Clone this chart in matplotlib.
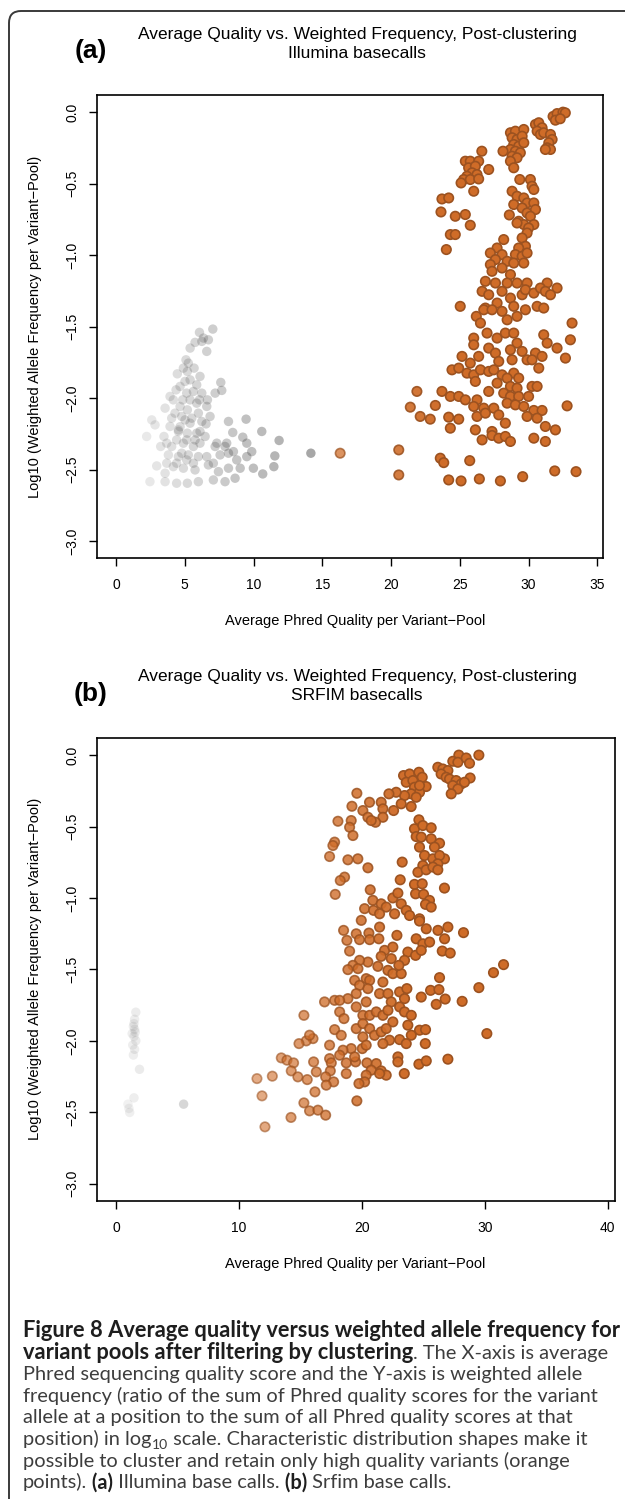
import matplotlib
matplotlib.use("Agg")
import matplotlib.pyplot as plt
import numpy as np
from matplotlib.colors import to_rgba
from matplotlib.path import Path
from matplotlib.patches import PathPatch

# ---------------- data ----------------
# Panel (a) Illumina: retained (orange) variant pools
qa_x = [31.78, 32.07, 32.5, 32.67, 31.95, 32.3,
        30.5, 30.74, 30.98, 30.62, 30.86, 31.1,
        31.59, 31.71, 31.47, 31.35, 31.59, 31.22,
        28.68, 29.04, 29.65, 28.8, 29.16, 29.53, 28.92, 29.28, 29.65, 28.68, 29.04, 29.4, 28.8, 29.16, 28.68, 28.92, 28.14,
        26.6, 25.4, 25.76, 26.37, 25.64, 26.13, 27.1, 25.89, 26.25, 25.52, 25.28, 25.76, 25.09, 26.01, 26.37,
        23.7, 24.19, 23.63, 24.67, 25.4, 25.76, 24.31, 24.67, 24.02,
        29.36, 30.13, 30.25, 30.38, 28.8, 29.16, 29.65, 29.89, 28.92, 30.38, 29.53, 29.89, 30.5, 28.6, 30.13, 29.28,
        29.65, 30.38, 29.16, 30.0, 29.89, 29.53, 28.19,
        29.77, 29.28, 27.71, 27.22, 28.07, 29.04, 29.53, 29.89, 27.59, 28.44, 27.22, 28.92, 29.65, 27.34, 28.07, 28.68,
        26.86, 27.59, 28.44, 29.16, 29.89, 31.35, 32.07, 26.62, 27.1, 28.07, 28.68, 29.53, 29.77, 30.38, 30.86, 31.22,
        31.59, 27.71, 28.92, 25.03, 26.86, 30.62,
        26.74, 27.34, 28.07, 28.44, 29.16, 29.77, 31.1,
        26.2, 26.5, 26.98, 26.01, 26.01, 27.71, 28.31, 28.92, 29.16, 31.1, 31.35, 33.16, 33.04, 32.07, 32.68,
        27.1, 27.59, 28.68, 29.53, 30.5, 30.98, 29.89, 30.25, 28.8, 27.83, 26.37, 25.16, 25.76, 30.74,
        24.43, 24.92, 25.52, 26.01, 26.5, 27.1, 27.47, 28.07, 28.92, 29.28, 28.44, 26.13, 27.71, 28.68, 29.16, 30.25, 30.62,
        21.88, 23.7, 24.31, 24.92, 25.4, 26.25, 27.1, 28.19, 28.68, 29.28, 30.0, 28.44, 29.04, 29.65, 21.4, 23.22, 26.01,
        26.74, 27.47, 30.38, 30.98, 32.8,
        22.12, 22.85, 24.19, 24.92, 26.25, 26.86, 27.83, 28.31, 29.89, 30.62, 24.31, 26.13, 27.34, 27.34, 27.83, 28.31,
        28.68, 26.62, 30.38, 31.22, 31.22, 31.95,
        20.56, 23.58, 23.83, 25.72, 20.56, 24.19, 25.09, 26.42, 27.95, 29.57, 31.9, 33.45,
        16.3]
qa_y = [-0.03, -0.01, -0.0, -0.005, -0.056, -0.046,
        -0.086, -0.074, -0.109, -0.133, -0.156, -0.144,
        -0.156, -0.191, -0.214, -0.249, -0.261, -0.261,
        -0.144, -0.133, -0.121, -0.179, -0.191, -0.168, -0.226, -0.238, -0.214, -0.261, -0.273, -0.284, -0.308, -0.319, -0.343, -0.389, -0.273,
        -0.273, -0.343, -0.343, -0.343, -0.389, -0.378, -0.401, -0.424, -0.436, -0.448, -0.471, -0.471, -0.495, -0.553, -0.467,
        -0.607, -0.6, -0.698, -0.728, -0.716, -0.791, -0.856, -0.856, -0.961,
        -0.471, -0.471, -0.518, -0.541, -0.553, -0.588, -0.6, -0.635, -0.646, -0.635, -0.67, -0.705, -0.681, -0.719, -0.728, -0.763,
        -0.786, -0.786, -0.775, -0.81, -0.845, -0.88, -0.891,
        -0.938, -0.95, -0.95, -0.985, -0.996, -0.996, -1.008, -0.985, -1.031, -1.043, -1.066, -1.055, -1.055, -1.113, -1.09, -1.136,
        -1.183, -1.195, -1.195, -1.195, -1.195, -1.195, -1.23, -1.253, -1.277, -1.253, -1.3, -1.277, -1.242, -1.265, -1.23, -1.253,
        -1.277, -1.335, -1.358, -1.358, -1.37, -1.358,
        -1.382, -1.382, -1.393, -1.452, -1.428, -1.382, -1.37,
        -1.428, -1.475, -1.545, -1.58, -1.627, -1.58, -1.545, -1.545, -1.615, -1.557, -1.615, -1.475, -1.592, -1.65, -1.72,
        -1.65, -1.685, -1.662, -1.673, -1.685, -1.708, -1.732, -1.732, -1.732, -1.743, -1.708, -1.708, -1.755, -1.79,
        -1.802, -1.79, -1.825, -1.837, -1.802, -1.813, -1.802, -1.837, -1.825, -1.86, -1.86, -1.883, -1.895, -1.918, -1.93, -1.918, -1.918,
        -1.953, -1.953, -1.988, -1.988, -2.012, -2.012, -1.953, -1.965, -1.988, -1.988, -1.988, -2.035, -2.047, -2.058, -2.063, -2.051, -2.058,
        -2.07, -2.07, -2.086, -2.086, -2.054,
        -2.128, -2.147, -2.133, -2.147, -2.128, -2.105, -2.117, -2.175, -2.128, -2.14, -2.21, -2.222, -2.233, -2.261, -2.28, -2.268,
        -2.303, -2.292, -2.28, -2.303, -2.198, -2.222,
        -2.362, -2.42, -2.451, -2.437, -2.537, -2.572, -2.579, -2.565, -2.579, -2.549, -2.509, -2.514,
        -2.385]

# Panel (a) Illumina: filtered-out (grey) variant pools
ga_x = [7.04, 6.07, 6.36, 6.72, 5.75, 6.24, 5.39, 6.6, 5.09, 5.26, 4.9, 5.68, 4.46, 5.19, 5.39, 5.02, 5.87, 7.62,
        4.37, 7.21, 7.69, 3.93, 5.63, 6.24, 4.85, 5.39, 6.07, 6.65, 3.57, 4.66, 5.19, 5.99, 6.6, 2.6, 2.84, 4.05,
        4.78, 5.51, 6.24, 6.84, 6.55, 8.18, 9.46, 2.23, 3.49, 4.54, 5.19, 5.87, 6.48, 8.49, 9.22, 10.6, 11.86,
        3.25, 4.05, 4.9, 5.63, 7.21, 8.05, 9.51, 3.81, 4.54, 5.26, 5.99, 6.72, 7.57, 8.18, 8.78, 9.87, 11.55, 14.17,
        2.96, 4.17, 4.9, 5.75, 7.45, 8.18, 9.03, 9.99, 10.67, 11.48, 3.57, 2.47, 3.57, 4.41, 5.19, 5.99, 7.08, 7.93,
        8.66, 7.33, 7.93, 7.08, 8.54, 9.51,
        4.66, 5.39, 4.41, 5.14, 3.93, 4.29, 5.75, 3.69, 6.11, 4.78, 5.63, 4.41, 3.69, 5.14, 6.6, 4.54, 6.11, 5.02,
        4.17, 5.87, 5.14, 4.66, 6.11]
ga_y = [-1.517, -1.54, -1.58, -1.592, -1.61, -1.603, -1.65, -1.673, -1.732, -1.755, -1.79, -1.79, -1.83, -1.813,
        -1.872, -1.883, -1.907, -1.89, -1.942, -1.965, -1.946, -1.988, -1.953, -1.965, -2.012, -2.012, -2.012, -2.012,
        -2.07, -2.058, -2.082, -2.105, -2.058, -2.152, -2.187, -2.14, -2.128, -2.14, -2.163, -2.128, -2.18, -2.163,
        -2.147, -2.268, -2.268, -2.233, -2.245, -2.245, -2.268, -2.24, -2.273, -2.233, -2.296, -2.338, -2.338, -2.315,
        -2.338, -2.338, -2.315, -2.315, -2.397, -2.409, -2.397, -2.409, -2.467, -2.397, -2.385, -2.432, -2.374, -2.404,
        -2.385, -2.474, -2.479, -2.49, -2.502, -2.514, -2.49, -2.49, -2.49, -2.53, -2.479, -2.525, -2.584, -2.584,
        -2.595, -2.595, -2.584, -2.572, -2.584, -2.56, -2.315, -2.338, -2.455, -2.374, -2.409,
        -2.2, -2.175, -2.292, -2.292, -2.198, -2.105, -2.292, -2.315, -2.315, -2.385, -2.455, -2.455, -2.455, -2.432,
        -2.409, -2.222, -2.233, -2.152, -2.012, -2.035, -1.965, -1.918, -1.848]

# Panel (b) SRFIM: retained (orange) variant pools
qb_x = [27.89, 27.4, 27.81, 28.49, 28.76, 29.52,
        26.18, 26.59, 27.0, 26.45, 26.86, 27.13,
        27.67, 28.08, 28.81, 28.35, 27.4, 27.81, 27.27,
        23.39, 23.88, 24.64, 24.91, 23.61, 24.15, 25.23, 24.28, 24.69, 24.01, 24.42, 23.47, 24.01, 23.2, 24.69, 22.79, 22.2, 22.58,
        20.62, 21.57, 20.08, 21.71, 20.49, 21.71, 21.11, 20.76,
        19.59, 19.19, 18.05, 19.13, 19.0, 19.27, 17.78, 17.64, 17.37, 18.86, 19.67, 20.49, 23.28, 18.59, 18.24, 17.83, 23.12,
        24.64, 24.28, 24.96, 25.64, 24.42, 24.83, 25.64, 26.32, 24.69, 25.1, 25.91, 25.78, 26.72, 26.32, 26.18, 24.96,
        24.56, 25.23, 25.78, 26.18, 24.28, 24.91, 26.72,
        20.68, 20.89, 20.22, 20.95, 21.57, 21.98, 21.44, 22.52, 22.93, 23.2, 23.61, 22.66, 24.37, 25.02, 25.5, 25.18,
        25.64, 24.69, 23.88,
        19.95, 18.51, 19.54, 20.57, 21.44, 19.81, 20.63, 21.38, 18.78, 19.0, 22.85, 24.69, 25.24, 26.19, 27.0, 28.27,
        24.42, 24.96, 25.51, 26.73, 26.54, 27.19, 21.85, 22.52, 23.74, 24.37, 24.83, 23.47, 22.39, 21.57, 20.49, 19.81,
        19.27, 18.86, 19.68, 21.3, 22.12, 22.52, 23.2, 23.01, 26.32, 25.59, 26.27, 26.78, 28.16, 29.52, 30.71, 30.17,
        26.05,
        19.41, 20.35, 20.63, 19.81, 21.71, 20.49, 19.54, 18.86, 17.78, 16.96, 18.19, 21.44, 22.12, 23.07, 23.66, 24.83,
        23.47, 22.39, 20.35, 19.54, 18.19, 18.54, 20.08, 20.63, 21.17, 21.71, 22.12, 23.07, 23.47, 24.02, 22.52, 23.74,
        24.69, 25.18, 24.02, 25.16, 15.28,
        17.78, 18.32, 19.54, 20.08, 20.63, 21.03, 21.57, 21.98, 22.25, 21.71, 20.08, 20.03, 20.35, 19.13, 18.46, 18.19,
        17.37, 23.07, 23.61, 22.93, 22.93, 24.64, 25.24, 27.0,
        16.02, 15.47, 15.74, 14.88, 13.44, 13.9, 14.44, 14.25, 14.79, 15.55, 16.07, 17.37, 17.51, 18.73, 19.49, 19.41,
        20.41, 21.17, 20.76, 21.57, 21.98, 21.44, 20.35, 20.22, 19.76, 18.73, 17.43, 17.05, 17.7, 17.1, 16.29, 23.45,
        12.71, 11.46, 11.87, 16.18, 15.28, 15.74, 16.42, 17.05, 14.23, 12.11, 19.59,
        31.53]
qb_y = [-0.0, -0.043, -0.05, -0.02, -0.057, -0.0,
        -0.085, -0.097, -0.108, -0.132, -0.155, -0.167,
        -0.178, -0.202, -0.16, -0.19, -0.213, -0.237, -0.271,
        -0.143, -0.132, -0.12, -0.155, -0.19, -0.178, -0.22, -0.225, -0.26, -0.271, -0.295, -0.283, -0.36, -0.341, -0.213, -0.26, -0.271, -0.388,
        -0.33, -0.33, -0.388, -0.376, -0.435, -0.435, -0.47, -0.458,
        -0.267, -0.358, -0.463, -0.458, -0.505, -0.563, -0.609, -0.633, -0.71, -0.733, -0.726, -0.789, -0.749, -0.854, -0.878, -0.975, -0.873,
        -0.453, -0.516, -0.493, -0.509, -0.57, -0.574, -0.586, -0.617, -0.644, -0.703, -0.644, -0.726, -0.726, -0.703, -0.761, -0.773,
        -0.82, -0.803, -0.784, -0.803, -0.905, -0.901, -0.931,
        -0.943, -1.017, -1.075, -1.087, -1.041, -1.064, -1.111, -1.0, -0.966, -1.041, -1.087, -1.111, -0.971, -0.975, -1.017, -1.045,
        -1.064, -1.146, -1.123,
        -1.157, -1.227, -1.251, -1.246, -1.204, -1.292, -1.292, -1.286, -1.297, -1.372, -1.262, -1.162, -1.216, -1.227, -1.204, -1.243,
        -1.286, -1.321, -1.309, -1.286, -1.372, -1.386, -1.367, -1.344, -1.379, -1.402, -1.367, -1.437, -1.425, -1.409, -1.449, -1.437,
        -1.472, -1.502, -1.495, -1.479, -1.507, -1.53, -1.53, -1.472, -1.558, -1.647, -1.642, -1.708, -1.724, -1.628, -1.523, -1.95,
        -1.745,
        -1.577, -1.565, -1.577, -1.612, -1.589, -1.635, -1.67, -1.705, -1.717, -1.728, -1.717, -1.67, -1.67, -1.658, -1.635, -1.694,
        -1.705, -1.728, -1.728, -1.763, -1.798, -1.845, -1.822, -1.822, -1.798, -1.822, -1.787, -1.763, -1.798, -1.822, -1.868, -1.891,
        -1.926, -1.922, -1.961, -2.02, -1.822,
        -1.922, -1.962, -1.915, -1.88, -1.915, -1.962, -1.938, -1.915, -1.996, -2.02, -1.973, -2.055, -2.031, -2.055, -2.066, -2.101,
        -2.031, -1.992, -2.02, -2.113, -2.148, -2.164, -2.141, -2.129,
        -1.985, -2.001, -1.961, -2.02, -2.12, -2.136, -2.155, -2.211, -2.253, -2.272, -2.148, -2.125, -2.155, -2.155, -2.148, -2.113,
        -2.155, -2.16, -2.206, -2.211, -2.241, -2.23, -2.241, -2.288, -2.3, -2.23, -2.211, -2.253, -2.288, -2.311, -2.218, -2.23,
        -2.248, -2.265, -2.386, -2.358, -2.435, -2.491, -2.486, -2.521, -2.537, -2.603, -2.421,
        -1.467]

# Panel (b) SRFIM: filtered-out (grey) variant pools
gb_x = [1.6, 1.5, 1.4, 1.5, 1.3, 1.45, 1.6, 1.35, 1.5, 1.4, 1.9, 1.45, 1.55, 1.45, 0.96, 1.04, 1.1, 5.49]
gb_y = [-1.8, -1.85, -1.9, -1.92, -1.95, -1.97, -2.0, -2.03, -2.06, -2.1, -2.2, -1.88, -1.94, -2.4, -2.444, -2.474, -2.502, -2.444]

xticks_a = [0, 5, 10, 15, 20, 25, 30, 35]
xticks_b = [0, 10, 20, 30, 40]
yticks = [0.0, -0.5, -1.0, -1.5, -2.0, -2.5, -3.0]

title_line1 = "Average Quality vs. Weighted Frequency, Post-clustering"
subtitle_a = "Illumina basecalls"
subtitle_b = "SRFIM basecalls"
xlabel = "Average Phred Quality per Variant\u2212Pool"
ylabel = "Log10 (Weighted Allele Frequency per Variant\u2212Pool)"

# ---------------- layout ----------------
W, H = 625, 1499
fig = plt.figure(figsize=(W / 100, H / 100), dpi=100)
fig.patch.set_facecolor("white")
AX_FONT = "Liberation Sans"
CAP_FONT = "Lato"


def fx(px):
    return px / W


def fy(py):
    return 1 - py / H


def fmt_tick(v, dec):
    s = f"{abs(v):.{dec}f}"
    return ("\u2212" + s) if v < 0 else s


def orange_style(x):
    a = np.clip(0.15 + np.asarray(x, float) / 28.0, 0, 1)
    face = np.array([to_rgba("#cf6c28", ai) for ai in a])
    edge = np.array([to_rgba("#9c5220", ai) for ai in a])
    return face, edge


def grey_style(x):
    a = np.clip(0.05 + np.asarray(x, float) / 32.0, 0.05, 0.6)
    return np.array([to_rgba("#4d4d4d", ai) for ai in a])


def make_panel(box, xlim, xticks, gx, gy, qx, qy, tag, subtitle):
    l, t, r, b = box
    ax = fig.add_axes([fx(l), fy(b), (r - l) / W, (b - t) / H])
    ax.set_xlim(*xlim)
    ax.set_ylim(-3.12, 0.12)
    ax.scatter(gx, gy, s=46, c=grey_style(gx), edgecolors="none", zorder=2)
    face, edge = orange_style(qx)
    ax.scatter(qx, qy, s=46, c=face, edgecolors=edge, linewidths=1.2, zorder=3)
    for sp in ax.spines.values():
        sp.set_linewidth(1.2)
        sp.set_color("black")
    ax.set_xticks(xticks)
    ax.set_xticklabels([str(v) for v in xticks], fontfamily=AX_FONT, fontsize=10)
    ax.set_yticks(yticks)
    ax.set_yticklabels([fmt_tick(v, 1) for v in yticks], fontfamily=AX_FONT, fontsize=10,
                       rotation=90, va="center")
    ax.tick_params(axis="x", direction="out", length=5.5, width=1, pad=9)
    ax.tick_params(axis="y", direction="out", length=5.5, width=1, pad=7)
    # titles & labels
    fig.text(fx(357), fy(t - 61), title_line1, ha="center", va="center",
             fontfamily=AX_FONT, fontsize=12.5)
    fig.text(fx(357), fy(t - 42), subtitle, ha="center", va="center",
             fontfamily=AX_FONT, fontsize=12.5)
    fig.text(fx(91), fy(t - 44), tag, ha="center", va="center",
             fontfamily=AX_FONT, fontweight="bold", fontsize=19)
    fig.text(fx(355), fy(b + 63), xlabel, ha="center", va="center",
             fontfamily=AX_FONT, fontsize=10.5)
    fig.text(fx(35), fy((t + b) / 2), ylabel, ha="center", va="center", rotation=90,
             fontfamily=AX_FONT, fontsize=10.5)
    return ax


make_panel((97, 95, 603, 558.3), (-1.38, 35.41), xticks_a, ga_x, ga_y, qa_x, qa_y, "(a)", subtitle_a)
make_panel((97, 738, 614.5, 1200.7), (-1.56, 40.56), xticks_b, gb_x, gb_y, qb_x, qb_y, "(b)", subtitle_b)

# frame with rounded top-left corner
verts = [(fx(625), fy(11)), (fx(21), fy(11)), (fx(9), fy(11)), (fx(9), fy(23)), (fx(9), fy(1499))]
codes = [Path.MOVETO, Path.LINETO, Path.CURVE3, Path.CURVE3, Path.LINETO]
fig.patches.append(PathPatch(Path(verts, codes), transform=fig.transFigure, fill=False,
                             edgecolor="#3a3a3a", linewidth=1.4))

# ---------------- caption ----------------
renderer = fig.canvas.get_renderer()
REG_C = "#3d3d3d"
BOLD_C = "#1e1e1e"


def fit_size(text, weight, target_px):
    probe = fig.text(0, 0, text, fontfamily=CAP_FONT, fontweight=weight, fontsize=10)
    w = probe.get_window_extent(renderer).width
    probe.remove()
    return 10 * target_px / w


CAP_SIZE = fit_size("Phred sequencing quality score and the Y-axis is weighted allele", "normal", 560.0)
HEAD_SIZE = fit_size("Figure 8 Average quality versus weighted allele frequency for", "bold", 598.0)

# runs: (text, weight, use heading size, size scale, baseline shift px)
caption = [
    [("Figure 8 Average quality versus weighted allele frequency for", "bold", True, 1, 0)],
    [("variant pools after filtering by clustering", "bold", True, 1, 0),
     (". The X-axis is average", "normal", False, 1, 0)],
    [("Phred sequencing quality score and the Y-axis is weighted allele", "normal", False, 1, 0)],
    [("frequency (ratio of the sum of Phred quality scores for the variant", "normal", False, 1, 0)],
    [("allele at a position to the sum of all Phred quality scores at that", "normal", False, 1, 0)],
    [("position) in log", "normal", False, 1, 0), ("10", "normal", False, 0.7, 4),
     (" scale. Characteristic distribution shapes make it", "normal", False, 1, 0)],
    [("possible to cluster and retain only high quality variants (orange", "normal", False, 1, 0)],
    [("points).", "normal", False, 1, 0), (" (a)", "bold", False, 1, 0),
     (" Illumina base calls.", "normal", False, 1, 0),
     (" (b)", "bold", False, 1, 0), (" Srfim base calls.", "normal", False, 1, 0)],
]

base0, step = 1337.0, 21.6
for i, runs in enumerate(caption):
    x = 23.0
    yb = base0 + i * step
    for text, weight, head, scale, dy in runs:
        size = (HEAD_SIZE if head else CAP_SIZE) * scale
        tt = fig.text(fx(x), fy(yb + dy), text, ha="left", va="baseline",
                      fontfamily=CAP_FONT, fontweight=weight, fontsize=size,
                      color=BOLD_C if weight == "bold" else REG_C)
        x += tt.get_window_extent(renderer).width

fig.savefig("out.png", dpi=100, facecolor="white")
